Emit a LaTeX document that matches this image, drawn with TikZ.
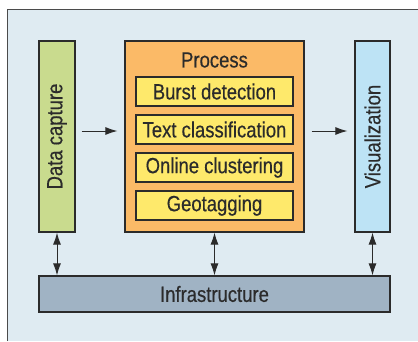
\documentclass[tikz,border=0pt]{standalone}
\usepackage{fontspec}
\setmainfont{Liberation Sans}[FakeStretch=0.84, FakeBold=0.4]
\usetikzlibrary{arrows.meta}
\definecolor{panelbg}{HTML}{DFEBF2}
\definecolor{capturefill}{HTML}{C9DB8E}
\definecolor{processfill}{HTML}{FBBA67}
\definecolor{stepfill}{HTML}{FEE96B}
\definecolor{visfill}{HTML}{BDE3F5}
\definecolor{infrafill}{HTML}{A0B3C4}
\definecolor{inkline}{HTML}{2B2B2B}
\tikzset{
  block/.style={draw=inkline, line width=1.1pt, inner sep=0pt, text=inkline},
  stepbox/.style={block, fill=stepfill, minimum width=157pt, minimum height=29pt},
  flow/.style={-{Latex[length=12pt,width=8pt]}, line width=1pt, draw=inkline},
  both/.style={{Latex[length=12pt,width=8pt]}-{Latex[length=12pt,width=8pt]}, line width=1pt, draw=inkline}
}
\newcommand{\lbl}{\fontsize{22pt}{24pt}\selectfont}
\begin{document}
\begin{tikzpicture}[x=1pt, y=-1pt]
\useasboundingbox (0,0) rectangle (418,341);
% panel
\fill[panelbg] (7,9.5) rectangle (418,341);
\draw[inkline!85, line width=1pt] (7,341) -- (7,9.5) -- (418,9.5);

% columns
\node[block, fill=capturefill, minimum width=36pt, minimum height=191pt] (capture) at (57,136.5)
  {\rotatebox{90}{\lbl Data capture}};
\node[block, fill=processfill, minimum width=179pt, minimum height=191pt] (process) at (214.5,136.5) {};
\node[block, fill=visfill, minimum width=35pt, minimum height=191pt] (vis) at (372.5,136.5)
  {\rotatebox{90}{\lbl Visualization}};
\node[block, fill=infrafill, minimum width=351pt, minimum height=36pt] (infra) at (214.5,294)
  {\lbl Infrastructure};

% process steps
\node[text=inkline] (ptitle) at (214.5,60) {\lbl Process};
\node[stepbox] (burst) at (214.5,91.5) {\lbl Burst detection};
\node[stepbox] (textcl) at (214.5,129.5) {\lbl Text classification};
\node[stepbox] (online) at (214.5,167.5) {\lbl Online clustering};
\node[stepbox] (geo) at (214.5,205.5) {\lbl Geotagging};

% connectors
\draw[flow, shorten <=6pt, shorten >=7pt] ([yshift=5.5pt]capture.east) -- ([yshift=5.5pt]process.west);
\draw[flow, shorten <=7pt, shorten >=7pt] ([yshift=5.5pt]process.east) -- ([yshift=5.5pt]vis.west);
\draw[both] (capture.south) -- (capture.south |- infra.north);
\draw[both] (process.south) -- (process.south |- infra.north);
\draw[both] (vis.south) -- (vis.south |- infra.north);
\end{tikzpicture}
\end{document}
